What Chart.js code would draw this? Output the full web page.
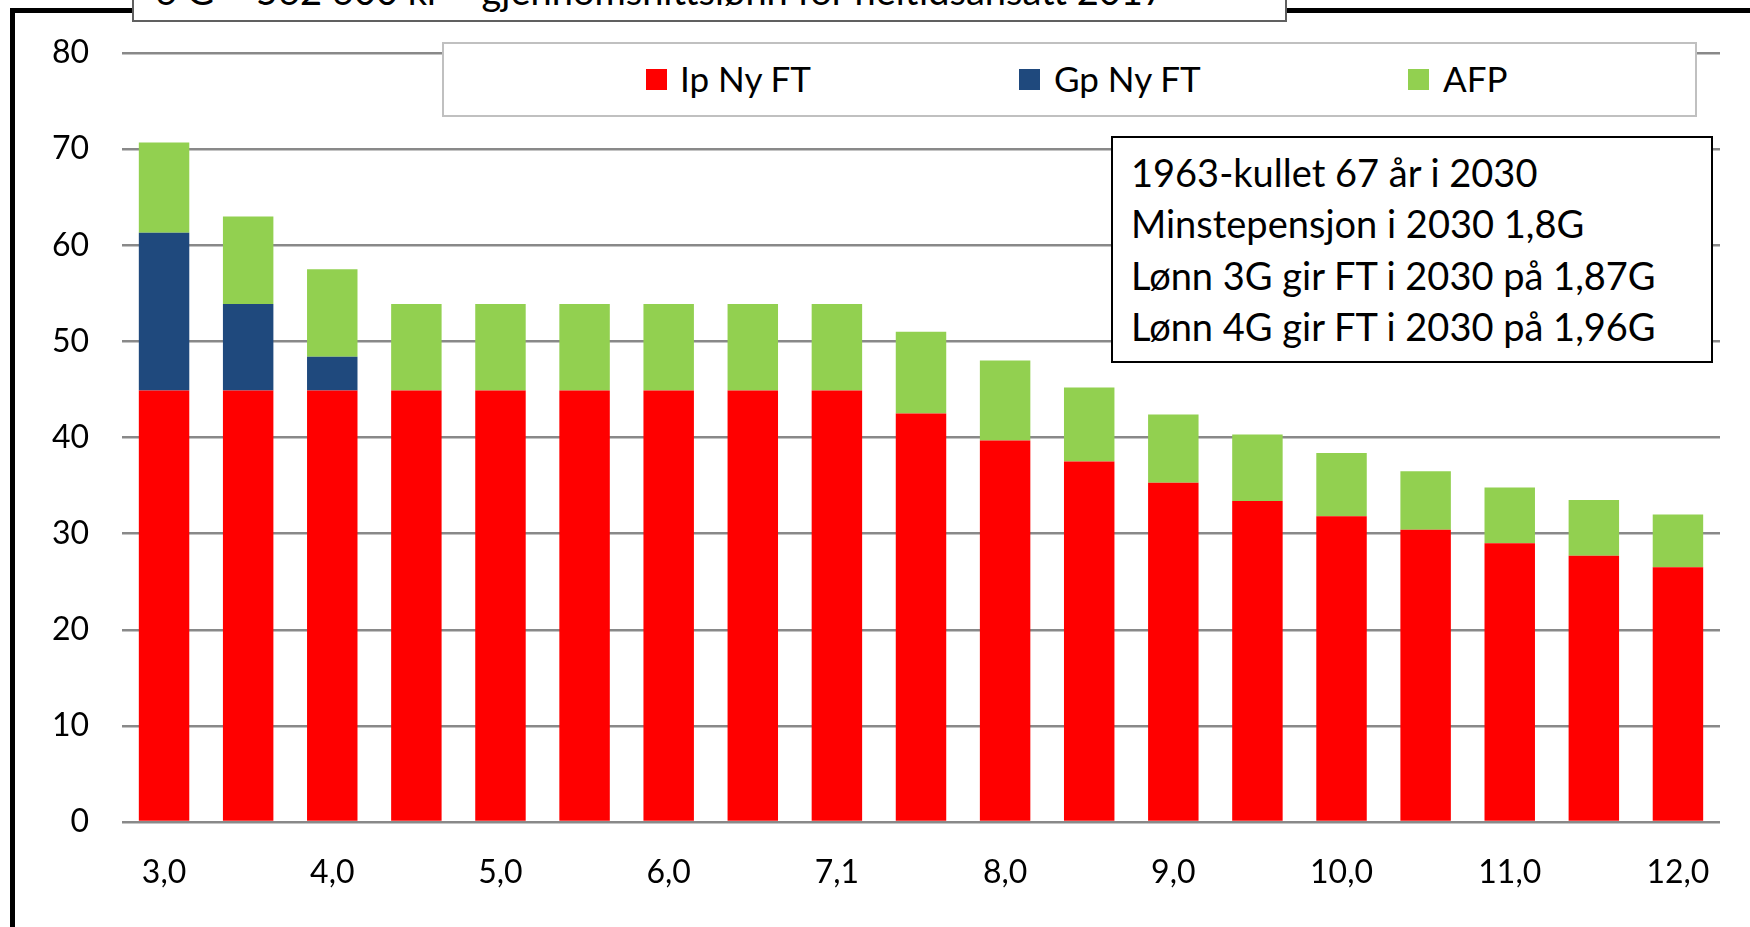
<!DOCTYPE html>
<html>
<head>
<meta charset="utf-8">
<script src="https://cdn.jsdelivr.net/npm/chart.js@4"></script>
<style>
  body { margin: 0; background: #fff; font-family: Lato, sans-serif; }
  #wrap { position: relative; width: 1750px; height: 927px; overflow: hidden; }
  #frame { position: absolute; left: 10px; top: 8px; width: 2000px; height: 2000px;
           border-top: 5px solid #000; border-left: 5px solid #000; }
  #chartBox { position: absolute; left: 0; top: 0; width: 1750px; height: 927px; }
  #title { position: absolute; left: 132px; top: -40px; width: 1155px; height: 62px; box-sizing: border-box;
           border: 2px solid #606060; background: #fff; }
  #title span { position: absolute; left: 21px; top: 9px; font-size: 38px; line-height: 38px; white-space: nowrap; color: #000; }
  #legend { position: absolute; left: 442px; top: 42px; width: 1255px; height: 75px; box-sizing: border-box;
            border: 2px solid #c0c0c0; background: #fff; }
  .lg { position: absolute; top: 11px; font-size: 35px; line-height: 46px; white-space: nowrap; }
  .sw { position: absolute; top: 25px; width: 21px; height: 21px; }
  #note { position: absolute; left: 1111px; top: 136px; width: 602px; height: 227px; box-sizing: border-box;
          border: 2px solid #000; background: #fff; padding: 9px 0 0 18px; }
  #note div { font-size: 38px; line-height: 51.3px; white-space: nowrap; }
</style>
</head>
<body>
<div id="wrap">
  <div id="frame"></div>
  <div id="chartBox"><canvas id="c"></canvas></div>
  <div id="title"><span>6 G = 562 600 kr = gjennomsnittslønn for heltidsansatt 2017</span></div>
  <div id="legend">
    <div class="sw" style="left:202px;background:#ff0000"></div><div class="lg" style="left:236px">Ip Ny FT</div>
    <div class="sw" style="left:575px;background:#1f497d"></div><div class="lg" style="left:610px">Gp Ny FT</div>
    <div class="sw" style="left:964px;background:#92d050"></div><div class="lg" style="left:999px">AFP</div>
  </div>
  <div id="note">
    <div>1963-kullet 67 år i 2030</div>
    <div>Minstepensjon i 2030 1,8G</div>
    <div>Lønn 3G gir FT i 2030 på 1,87G</div>
    <div>Lønn 4G gir FT i 2030 på 1,96G</div>
  </div>
</div>
<script>
// lønn i G (hver annen kategori vises på aksen)
const categories = ['3,0', '3,5', '4,0', '4,5', '5,0', '5,5', '6,0', '6,5', '7,1', '7,5',
                    '8,0', '8,5', '9,0', '9,5', '10,0', '10,5', '11,0', '11,5', '12,0'];

const ipNyFT = [44.9, 44.9, 44.9, 44.9, 44.9, 44.9, 44.9, 44.9, 44.9, 42.5,
                39.7, 37.5, 35.3, 33.4, 31.8, 30.4, 29.0, 27.7, 26.5];
const gpNyFT = [16.4, 9.0, 3.5, 0, 0, 0, 0, 0, 0, 0,
                0, 0, 0, 0, 0, 0, 0, 0, 0];
const afp = [9.4, 9.1, 9.1, 9.0, 9.0, 9.0, 9.0, 9.0, 9.0, 8.5,
             8.3, 7.7, 7.1, 6.9, 6.6, 6.1, 5.8, 5.8, 5.5];

const yTicks = [0, 10, 20, 30, 40, 50, 60, 70, 80];

const FONT = { family: 'Lato, sans-serif', size: 32 };

new Chart(document.getElementById('c'), {
  type: 'bar',
  data: {
    labels: categories,
    datasets: [
      { label: 'Ip Ny FT', data: ipNyFT, backgroundColor: '#ff0000' },
      { label: 'Gp Ny FT', data: gpNyFT, backgroundColor: '#1f497d' },
      { label: 'AFP', data: afp, backgroundColor: '#92d050' },
    ],
  },
  options: {
    responsive: true,
    maintainAspectRatio: false,
    animation: false,
    layout: { padding: { top: 53, right: 30, left: 0, bottom: 0 } },
    datasets: { bar: { categoryPercentage: 1, barPercentage: 0.6 } },
    plugins: {
      legend: { display: false },
      tooltip: { enabled: false },
    },
    scales: {
      x: {
        stacked: true,
        grid: { display: false, drawTicks: false },
        border: { display: false },
        ticks: {
          autoSkip: false,
          maxRotation: 0,
          padding: 31,
          color: '#000',
          font: FONT,
          callback: (v, i) => (i % 2 === 0 ? categories[i] : ''),
        },
        afterFit: (s) => { s.height = 105; },
      },
      y: {
        stacked: true,
        min: 0,
        max: 80,
        afterBuildTicks: (s) => { s.ticks = yTicks.map(v => ({ value: v })); },
        grid: { color: '#898989', lineWidth: 2.5, drawTicks: false },
        border: { display: false },
        ticks: { padding: 33, color: '#000', font: FONT },
        afterFit: (s) => { s.width = 122; },
      },
    },
  },
});
</script>
</body>
</html>
